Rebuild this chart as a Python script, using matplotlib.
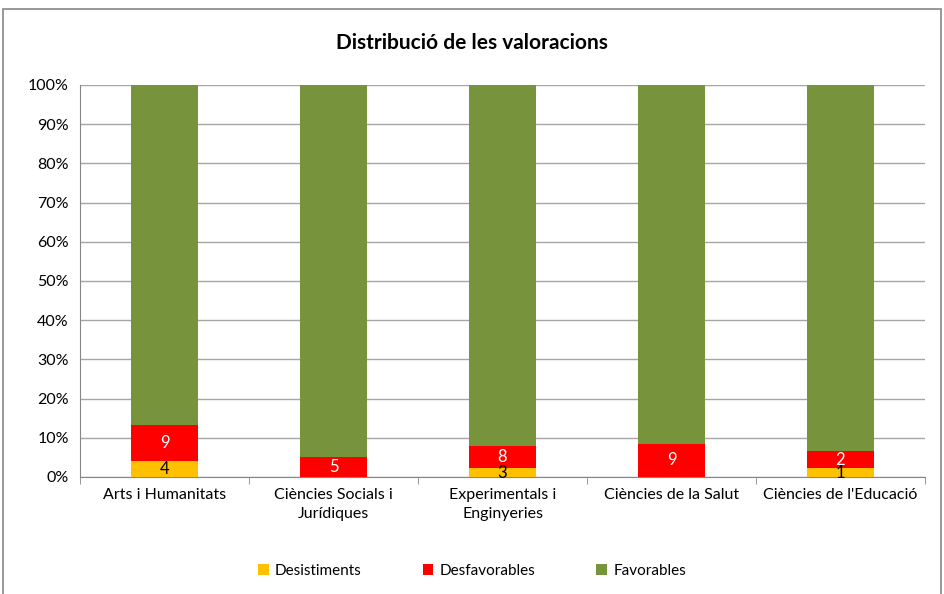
import matplotlib
matplotlib.use("Agg")
import matplotlib.pyplot as plt
import numpy as np

categories = ["Arts i Humanitats", "Ciències Socials i\nJurídiques", "Experimentals i\nEnginyeries",
              "Ciències de la Salut", "Ciències de l'Educació"]
desistiments = [4, 0, 3, 0, 1]
desfavorables = [9, 5, 8, 9, 2]
favorables = [85, 91, 126, 97, 42]

series_names = ["Desistiments", "Desfavorables", "Favorables"]
colors = ["#FFC000", "#FF0000", "#77933C"]

plt.rcParams['font.family'] = ['Lato', 'DejaVu Sans']

fig = plt.figure(figsize=(9.44, 5.94), dpi=100)
ax = fig.add_axes([80/944, 1-477/594, (925-80)/944, (477-85)/594])

vals = np.array([desistiments, desfavorables, favorables], dtype=float)
totals = vals.sum(axis=0)
pct = vals / totals * 100
x = np.arange(len(categories))
bottom = np.zeros(len(categories))
bars = []
for i in range(3):
    b = ax.bar(x, pct[i], bottom=bottom, width=0.4, color=colors[i], label=series_names[i], zorder=3)
    bars.append(b)
    if i < 2:
        for j in range(len(categories)):
            if vals[i][j] > 0:
                ax.text(x[j], bottom[j] + pct[i][j] / 2, f"{int(vals[i][j])}",
                        ha='center', va='center', fontsize=12,
                        color='black' if i == 0 else 'white', zorder=4)
    bottom += pct[i]

ax.set_xlim(-0.5, len(categories) - 0.5)
ax.set_ylim(0, 100)
ax.set_yticks(np.arange(0, 101, 10))
ax.set_yticklabels([f"{v}%" for v in range(0, 101, 10)], fontsize=11.5)
ax.set_xticks(x)
ax.set_xticklabels(categories, fontsize=11.5, linespacing=1.4)
ax.set_xticks(np.arange(-0.5, len(categories), 1), minor=True)
ax.tick_params(axis='x', which='major', length=0, pad=8)
ax.tick_params(axis='x', which='minor', length=5, color='#868686')
ax.tick_params(axis='y', length=0, pad=8)
ax.yaxis.grid(True, color='#A6A6A6', linewidth=1, zorder=0)
for s in ['top', 'right']:
    ax.spines[s].set_visible(False)
for s in ['left', 'bottom']:
    ax.spines[s].set_color('#868686')

fig.text(0.5, 1-43/594, "Distribució de les valoracions", ha='center', va='center',
         fontsize=15, fontweight='bold')

fig.legend(handles=bars, labels=series_names, loc='center', bbox_to_anchor=(0.5, 1-571/594),
           ncol=3, frameon=False, fontsize=11, handlelength=0.7, handleheight=0.7,
           columnspacing=4.0, handletextpad=0.4)

border = plt.Rectangle((3/944, -0.01), (941-3)/944, 1-9/594 + 0.01, transform=fig.transFigure,
                       fill=False, edgecolor='#868686', linewidth=1.2)
fig.add_artist(border)

fig.savefig("out.png", dpi=100)
